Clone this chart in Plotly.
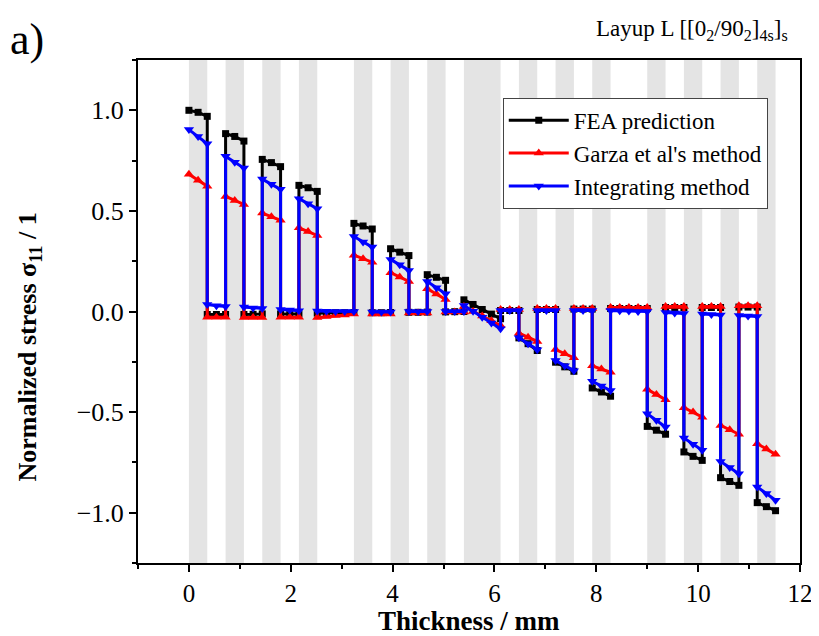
import numpy as np
import plotly.graph_objects as go

# Block edges (mm) of the ply groups through the thickness
block_edges = [0.00, 0.36, 0.72, 1.08, 1.44, 1.80, 2.16, 2.52, 3.24, 3.60, 3.96, 4.32,
               4.68, 5.04, 5.40, 6.12, 6.48, 6.84, 7.20, 7.56, 7.92, 8.28, 9.00, 9.36,
               9.72, 10.08, 10.44, 10.80, 11.16, 11.52]
block_angle = [0, 90, 0, 90, 0, 90, 0, 90, 0, 90, 0, 90, 0, 90, 0,
               90, 0, 90, 0, 90, 0, 90, 0, 90, 0, 90, 0, 90, 0]
ply_thickness = 0.18

fea = [
    [1.000, 0.990, 0.970], [-0.015, -0.015, -0.015], [0.884, 0.870, 0.847], [-0.015, -0.014, -0.012],
    [0.756, 0.740, 0.720], [-0.012, -0.012, -0.012], [0.627, 0.615, 0.597],
    [-0.008, -0.007, -0.006, -0.006, -0.005],
    [0.438, 0.425, 0.410], [-0.006, -0.006, -0.005], [0.312, 0.295, 0.278], [-0.004, -0.004, -0.003],
    [0.183, 0.170, 0.155], [-0.002, -0.001, 0.000],
    [0.058, 0.035, 0.010, -0.013, -0.036],
    [0.005, 0.005, 0.005], [-0.131, -0.160, -0.194], [0.010, 0.010, 0.010], [-0.252, -0.275, -0.297],
    [0.012, 0.012, 0.012], [-0.380, -0.400, -0.421],
    [0.015, 0.015, 0.015, 0.015, 0.015],
    [-0.571, -0.590, -0.610], [0.020, 0.020, 0.020], [-0.698, -0.720, -0.740], [0.020, 0.020, 0.020],
    [-0.826, -0.845, -0.864], [0.022, 0.022, 0.022], [-0.950, -0.970, -0.990],
]
garza = [
    [0.682, 0.652, 0.623], [-0.028, -0.028, -0.028], [0.572, 0.552, 0.532], [-0.030, -0.030, -0.030],
    [0.489, 0.471, 0.453], [-0.028, -0.028, -0.028], [0.416, 0.397, 0.378],
    [-0.030, -0.025, -0.020, -0.017, -0.013],
    [0.280, 0.262, 0.245], [-0.012, -0.012, -0.012], [0.193, 0.171, 0.149], [-0.008, -0.008, -0.008],
    [0.113, 0.087, 0.060], [-0.003, -0.003, -0.003],
    [0.025, 0.000, -0.022, -0.046, -0.070],
    [0.010, 0.010, 0.010], [-0.108, -0.128, -0.149], [0.015, 0.015, 0.015], [-0.189, -0.210, -0.230],
    [0.015, 0.015, 0.015], [-0.270, -0.286, -0.302],
    [0.020, 0.020, 0.020, 0.020, 0.020],
    [-0.387, -0.412, -0.438], [0.025, 0.025, 0.025], [-0.478, -0.500, -0.525], [0.025, 0.025, 0.025],
    [-0.566, -0.588, -0.610], [0.028, 0.028, 0.028], [-0.657, -0.683, -0.710],
]
integ = [
    [0.904, 0.870, 0.834], [0.035, 0.028, 0.025], [0.771, 0.742, 0.713], [0.022, 0.018, 0.015],
    [0.658, 0.632, 0.607], [0.010, 0.007, 0.004], [0.561, 0.536, 0.511],
    [0.002, 0.001, 0.000, 0.000, 0.000],
    [0.373, 0.346, 0.320], [-0.002, -0.002, -0.002], [0.259, 0.232, 0.204], [0.000, 0.000, 0.000],
    [0.149, 0.118, 0.088], [0.000, 0.000, 0.000],
    [0.030, 0.001, -0.028, -0.057, -0.086],
    [0.005, 0.005, 0.005], [-0.130, -0.160, -0.190], [0.005, 0.005, 0.005], [-0.244, -0.270, -0.294],
    [0.005, 0.005, 0.005], [-0.347, -0.370, -0.393],
    [0.005, 0.004, 0.002, 0.000, 0.000],
    [-0.508, -0.540, -0.574], [-0.005, -0.008, -0.010], [-0.629, -0.660, -0.690], [-0.012, -0.015, -0.017],
    [-0.745, -0.775, -0.806], [-0.020, -0.022, -0.025], [-0.872, -0.905, -0.938],
]

series_names = ["FEA prediction", "Garza et al's method", "Integrating method"]
series_colors = ["#000000", "#ff0000", "#0000ff"]
series_symbols = ["square", "triangle-up", "triangle-down"]
series_msize = [7, 9, 9]


def build_xy(values):
    xs, ys = [], []
    for i, vals in enumerate(values):
        a = block_edges[i]
        for k, v in enumerate(vals):
            xs.append(round(a + k * ply_thickness, 2))
            ys.append(v)
    return xs, ys


fig = go.Figure()

# gray bands for 0° plies
for i, ang in enumerate(block_angle):
    if ang == 0:
        fig.add_shape(type="rect", xref="x", yref="paper",
                      x0=block_edges[i], x1=block_edges[i + 1], y0=0, y1=1,
                      fillcolor="#e4e4e4", line_width=0, layer="below")

for vals, name, col, sym, ms in zip([fea, garza, integ], series_names, series_colors,
                                    series_symbols, series_msize):
    xs, ys = build_xy(vals)
    fig.add_trace(go.Scatter(
        x=xs, y=ys, mode="lines+markers", name=name,
        line=dict(color=col, width=3),
        marker=dict(symbol=sym, size=ms, color=col),
    ))

FF = "Liberation Serif"

# the page body adds an 8px offset, so the figure is 8px smaller than the window
fig.update_layout(
    width=811, height=628,
    margin=dict(l=130, r=19, t=52, b=73, autoexpand=False),
    paper_bgcolor="white", plot_bgcolor="white",
    font=dict(family=FF, size=20, color="black"),
    showlegend=True,
    legend=dict(x=0.551, y=0.925, xanchor="left", yanchor="top",
                bgcolor="white", bordercolor="#444", borderwidth=1,
                font=dict(family=FF, size=23, color="black"),
                itemwidth=60, tracegroupgap=0),
    xaxis=dict(range=[-1, 12], tick0=0, dtick=2, ticks="outside", ticklen=7, tickwidth=2,
               tickcolor="black",
               showline=True, linecolor="black", linewidth=2, mirror=True,
               showgrid=False, zeroline=False, automargin=False,
               minor=dict(dtick=1, ticks="outside", ticklen=4, tickwidth=2, tickcolor="black"),
               tickfont=dict(family=FF, size=25, color="black")),
    yaxis=dict(range=[-1.25, 1.25], tick0=0, dtick=0.5, tickformat=".1f",
               ticks="outside", ticklen=7, tickwidth=2, tickcolor="black",
               showline=True, linecolor="black", linewidth=2, mirror=True,
               showgrid=False, zeroline=False, automargin=False,
               minor=dict(dtick=0.25, ticks="outside", ticklen=4, tickwidth=2, tickcolor="black"),
               tickfont=dict(family=FF, size=26, color="black")),
)

# axis titles
fig.add_annotation(xref="paper", yref="paper", x=0.5, y=-0.116, xanchor="center", yanchor="middle",
                   text="<b>Thickness / mm</b>", showarrow=False,
                   font=dict(family=FF, size=27, color="black"))
fig.add_annotation(xref="paper", yref="paper", x=-0.165, y=0.43, xanchor="center", yanchor="middle",
                   textangle=-90, text="<b>Normalized stress σ<sub>11</sub> / 1</b>", showarrow=False,
                   font=dict(family=FF, size=26, color="black"))

fig.add_annotation(xref="paper", yref="paper", x=-0.196, y=1.04, xanchor="left", yanchor="middle",
                   text="a)", showarrow=False, font=dict(family=FF, size=44, color="black"))
fig.add_annotation(xref="paper", yref="paper", x=0.985, y=1.06, xanchor="right", yanchor="middle",
                   text="Layup L [[0<sub>2</sub>/90<sub>2</sub>]<sub>4s</sub>]<sub>s</sub>",
                   showarrow=False, font=dict(family=FF, size=23, color="black"))

fig.write_html("out.html")
